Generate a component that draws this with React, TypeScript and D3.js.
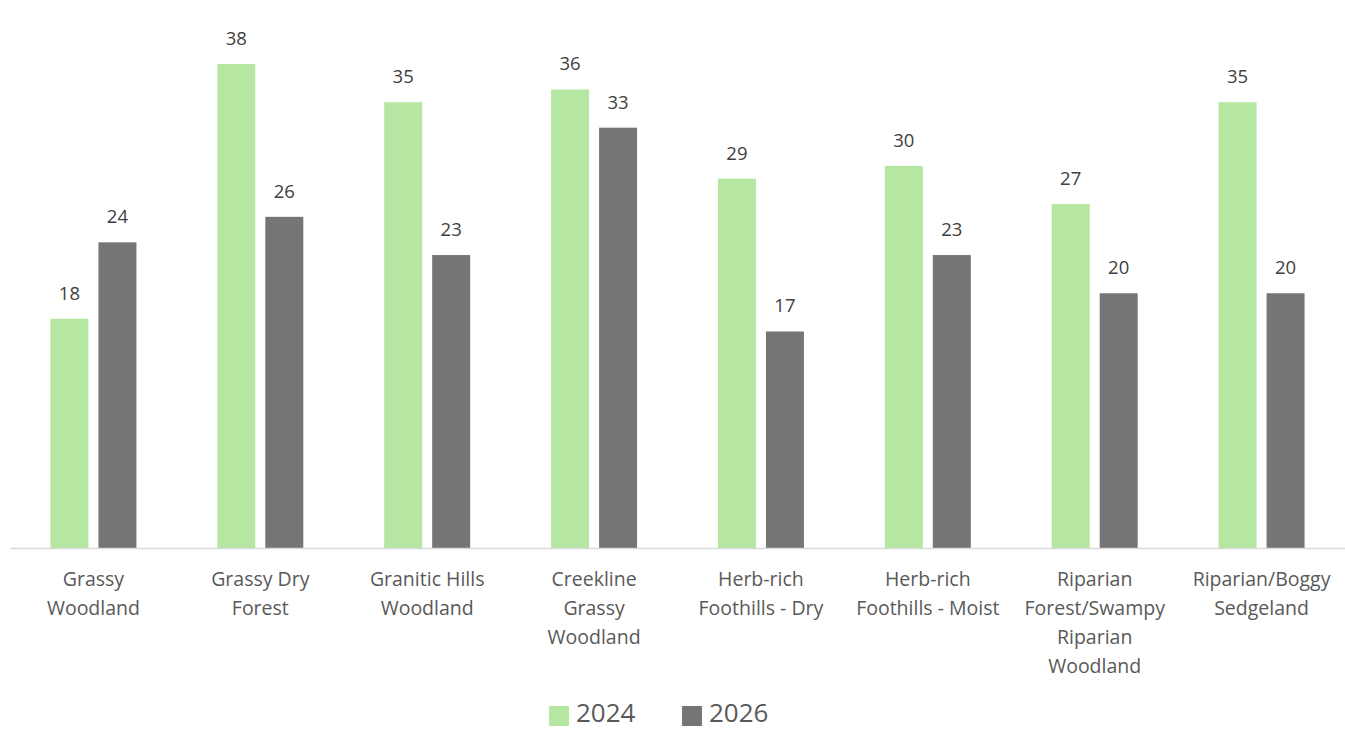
import React from "react";
import * as d3 from "d3";

const categories: string[][] = [
  ["Grassy", "Woodland"],
  ["Grassy Dry", "Forest"],
  ["Granitic Hills", "Woodland"],
  ["Creekline", "Grassy", "Woodland"],
  ["Herb-rich", "Foothills - Dry"],
  ["Herb-rich", "Foothills - Moist"],
  ["Riparian", "Forest/Swampy", "Riparian", "Woodland"],
  ["Riparian/Boggy", "Sedgeland"],
];
const series2024 = [18, 38, 35, 36, 29, 30, 27, 35];
const series2026 = [24, 26, 23, 33, 17, 23, 20, 20];
const seriesNames = ["2024", "2026"];
const colors = ["#b5e6a2", "#757575"];

const W = 1345;
const H = 729;
const FONT = "'Open Sans', 'Noto Sans', sans-serif";

export default function App() {
  const x = d3.scaleBand<number>().domain(d3.range(categories.length)).range([10, 1345]);
  const y = d3.scaleLinear().domain([0, 38]).range([548, 64]);
  const barW = 38;
  const gap = 10;
  const data = [series2024, series2026];

  return (
    <svg width={W} height={H} style={{ position: "absolute", left: 0, top: 0, background: "#fff" }} fontFamily={FONT}>
      {categories.map((lines, i) => {
        const cx = (x(i) as number) + x.bandwidth() / 2;
        return (
          <g key={i}>
            {data.map((s, k) => {
              const bx = k === 0 ? cx - gap / 2 - barW : cx + gap / 2;
              const v = s[i];
              return (
                <g key={k}>
                  <rect x={bx} y={y(v)} width={barW} height={y(0) - y(v)} fill={colors[k]} />
                  <text x={bx + barW / 2} y={y(v) - 19} textAnchor="middle" fontSize={18.5} fill="#404040">
                    {v}
                  </text>
                </g>
              );
            })}
            {lines.map((ln, j) => (
              <text key={j} x={cx} y={586 + j * 29} textAnchor="middle" fontSize={19.5} fill="#595959">
                {ln}
              </text>
            ))}
          </g>
        );
      })}
      <line x1={10} x2={1345} y1={y(0) + 0.5} y2={y(0) + 0.5} stroke="#d9d9d9" strokeWidth={1.5} />
      {seriesNames.map((n, k) => {
        const lx = k === 0 ? 549 : 682;
        return (
          <g key={n}>
            <rect x={lx} y={706} width={20} height={20} fill={colors[k]} />
            <text x={lx + 27} y={722} fontSize={26} fill="#595959">
              {n}
            </text>
          </g>
        );
      })}
    </svg>
  );
}
